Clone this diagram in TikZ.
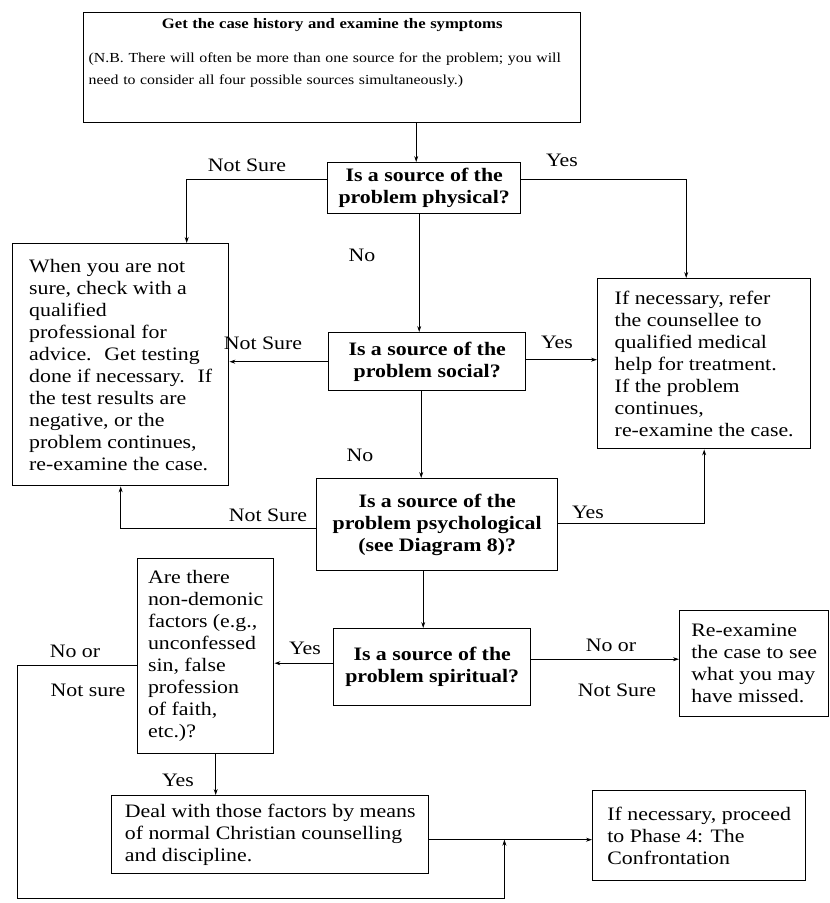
\documentclass[tikz,border=0pt]{standalone}
\usepackage{fontspec}
\setmainfont{Liberation Serif}[FakeStretch=1.15]
\usetikzlibrary{arrows.meta, calc}

\newcommand{\bodyfont}{\fontsize{19}{22}\selectfont}

\begin{document}
\begin{tikzpicture}[
  x=1pt, y=-1pt,
  box/.style={draw, line width=1.4pt, anchor=north west, inner sep=6pt,
    font=\bodyfont, align=left},
  ask/.style={box, align=center, inner sep=4pt, font=\bodyfont\bfseries},
  lbl/.style={font=\bodyfont, inner sep=1pt},
  arr/.style={line width=0.8pt, -{Stealth[length=6pt, width=4pt]}},
]
  \useasboundingbox (0,0) rectangle (830,903);

  % boxes
  \node[box, minimum width=497pt, text width=487pt, inner xsep=5pt, text depth=88pt,
    font=\fontsize{13.8}{22}\selectfont] (start) at (83,12)
    {\hfill\textbf{\fontsize{14.5}{22}\selectfont Get the case history and examine the symptoms}\hfill\mbox{}\\[12pt]
     (N.B. There will often be more than one source for the problem; you will\\
     need to consider all four possible sources simultaneously.)};
  \node[ask, minimum width=193pt, minimum height=51pt] (phys) at (327,162)
    {Is a source of the\\problem physical?};
  \node[box, minimum width=216pt, minimum height=242pt] (unsure) at (12,243)
    {When you are not\\sure, check with a\\qualified\\professional for\\
     advice.~ Get testing\\done if necessary.~ If\\the test results are\\
     negative, or the\\problem continues,\\re-examine the case.};
  \node[ask, minimum width=197pt, minimum height=58pt] (social) at (328,332)
    {Is a source of the\\problem social?};
  \node[box, minimum width=213pt, minimum height=170pt] (medic) at (597,278)
    {If necessary, refer\\the counsellee to\\qualified medical\\
     help for treatment.\\If the problem\\continues,\\re-examine the case.};
  \node[ask, minimum width=241pt, minimum height=92pt] (psych) at (316,478)
    {Is a source of the\\problem psychological\\(see Diagram 8)?};
  \node[ask, minimum width=197pt, minimum height=77pt] (spirit) at (333,628)
    {Is a source of the\\problem spiritual?};
  \node[box, minimum width=149pt, minimum height=106pt] (recheck) at (679,610)
    {Re-examine\\the case to see\\what you may\\have missed.};
  \node[box, minimum width=136pt, minimum height=195pt] (factors) at (137,558)
    {Are there\\non-demonic\\factors (e.g.,\\unconfessed\\sin, false\\
     profession\\of faith,\\etc.)?};
  \node[box, minimum width=317pt, minimum height=78pt] (deal) at (111,795)
    {Deal with those factors by means\\of normal Christian counselling\\
     and discipline.};
  \node[box, minimum width=213pt, minimum height=90pt] (phase) at (592,790)
    {If necessary, proceed\\to Phase 4: The\\Confrontation};

  \coordinate (physin) at ([xshift=-8pt]phys.north);
  \coordinate (merge) at ($(deal.east)+(75,5)$);
  \coordinate (loop) at (17,898);

  % connectors
  \draw[arr] (start.south -| physin) -- (physin);
  \draw[arr] ([yshift=9pt]phys.west) -| ([xshift=66pt]unsure.north);
  \draw[arr] ([yshift=9pt]phys.east) -| ([xshift=-18pt]medic.north);
  \draw[arr] ([xshift=-5pt]phys.south) -- ([xshift=-5pt]phys.south |- social.north);
  \draw[arr] (social.west) -- (social.west -| unsure.east);
  \draw[arr] ([yshift=2pt]social.east) -- ([yshift=2pt]social.east -| medic.west);
  \draw[arr] ([xshift=-6pt]social.south) -- ([xshift=-6pt]social.south |- psych.north);
  \draw[arr] ([yshift=-4pt]psych.west) -| (unsure.south);
  \draw[arr] ([yshift=1pt]psych.east) -| (medic.south);
  \draw[arr] ([xshift=-14pt]psych.south) -- ([xshift=-14pt]psych.south |- spirit.north);
  \draw[arr] ([yshift=4pt]spirit.west) -- ([yshift=4pt]spirit.west -| factors.east);
  \draw[arr] ([yshift=8pt]spirit.east) -- ([yshift=8pt]spirit.east -| recheck.west);
  \draw[arr] ([xshift=10pt]factors.south) -- ([xshift=10pt]factors.south |- deal.north);
  \draw[arr] (deal.east |- merge) -- (merge -| phase.west);
  \draw[arr] ([yshift=-9pt]factors.west) -| (loop) -| (merge);

  % labels
  \node[lbl] (l1) at (247,165) {Not Sure};
  \node[lbl] (l2) at (562,160) {Yes};
  \node[lbl] (l3) at (362,255) {No};
  \node[lbl] (l4) at (263,343) {Not Sure};
  \node[lbl] (l5) at (557,342) {Yes};
  \node[lbl] (l6) at (360,455) {No};
  \node[lbl] (l7) at (268,515) {Not Sure};
  \node[lbl] (l8) at (588,512) {Yes};
  \node[lbl] (l9) at (305,648) {Yes};
  \node[lbl] (l10) at (611,645) {No or};
  \node[lbl] (l11) at (617,690) {Not Sure};
  \node[lbl] (l12) at (75,651) {No or};
  \node[lbl] (l13) at (88,690) {Not sure};
  \node[lbl] (l14) at (178,780) {Yes};
\end{tikzpicture}
\end{document}
